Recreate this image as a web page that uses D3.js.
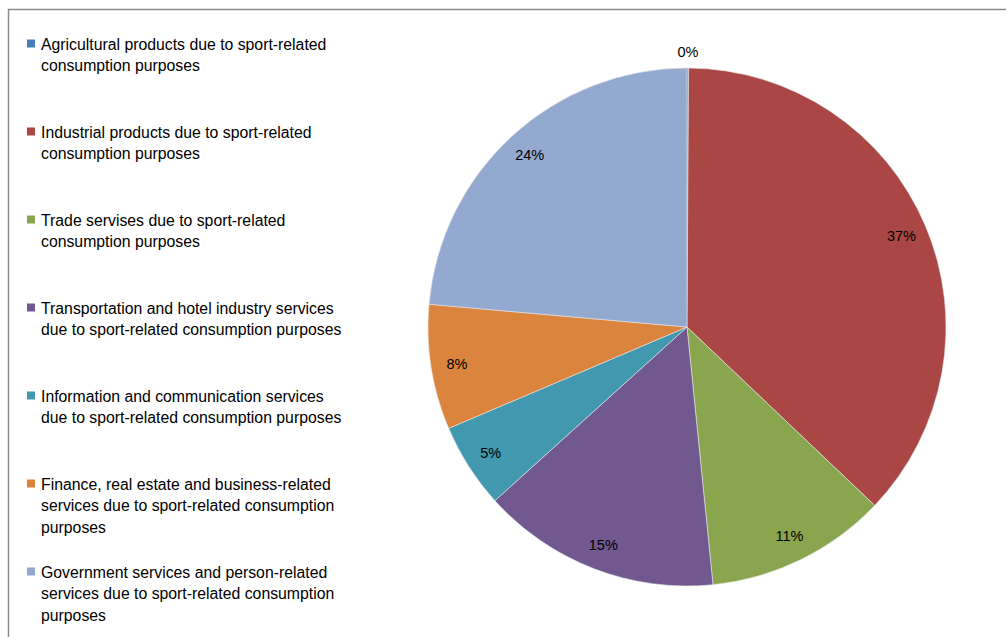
<!DOCTYPE html>
<html><head><meta charset="utf-8">
<script src="https://cdn.jsdelivr.net/npm/d3@7"></script>
<style>
html,body{margin:0;padding:0;background:#fff;}
svg{display:block;}
text{font-family:"Liberation Sans",Arial,sans-serif;fill:#000;}
</style></head>
<body>
<svg id="chart" width="1006" height="637"></svg>
<script>
const categories = [
  "Agricultural products due to sport-related consumption purposes",
  "Industrial products due to sport-related consumption purposes",
  "Trade servises due to sport-related consumption purposes",
  "Transportation and hotel industry services due to sport-related consumption purposes",
  "Information and communication services due to sport-related consumption purposes",
  "Finance, real estate and business-related services due to sport-related consumption purposes",
  "Government services and person-related services due to sport-related consumption purposes"
];
const legendLines = [
  ["Agricultural products due to sport-related", "consumption purposes"],
  ["Industrial products due to sport-related", "consumption purposes"],
  ["Trade servises due to sport-related", "consumption purposes"],
  ["Transportation and hotel industry services", "due to sport-related consumption purposes"],
  ["Information and communication services", "due to sport-related consumption purposes"],
  ["Finance, real estate and business-related", "services due to sport-related consumption", "purposes"],
  ["Government services and person-related", "services due to sport-related consumption", "purposes"]
];
const values = [0.1, 37.0, 11.3, 14.9, 5.3, 7.8, 23.6];
const colors = ["#4A7EBB", "#AA4643", "#89A54E", "#71588F", "#4198AF", "#DB843D", "#93A9CF"];

const svg = d3.select("#chart");

// frame
svg.append("rect").attr("x", 8.5).attr("y", 9.5).attr("width", 1100).attr("height", 700)
  .attr("fill", "none").attr("stroke", "#8a8a8a").attr("stroke-width", 1.5);

const cx = 687, cy = 327, R = 259;
const total = d3.sum(values);
const data = categories.map((c, i) => ({name: c, value: values[i], color: colors[i], lines: legendLines[i]}));

const pie = d3.pie().sort(null).value(d => d.value).startAngle(0).endAngle(2 * Math.PI);
const arcs = pie(data);
const arc = d3.arc().innerRadius(0).outerRadius(R);
const labelArc = d3.arc().innerRadius(233).outerRadius(233);
const outArc = d3.arc().innerRadius(R + 16).outerRadius(R + 16);

const g = svg.append("g").attr("transform", `translate(${cx},${cy})`);
g.selectAll("path.slice").data(arcs).join("path")
  .attr("class", "slice")
  .attr("d", arc)
  .attr("fill", d => d.data.color)
  .attr("stroke", "#e8e8e8").attr("stroke-width", 0.6);

const fmt = v => Math.round(v / total * 100) + "%";
g.selectAll("text.lbl").data(arcs).join("text")
  .attr("class", "lbl")
  .attr("transform", d => {
    const frac = d.data.value / total;
    const p = frac < 0.02 ? outArc.centroid(d) : labelArc.centroid(d);
    return `translate(${p[0]},${p[1]})`;
  })
  .attr("text-anchor", "middle").attr("dy", "0.35em")
  .attr("font-size", 14.5)
  .text(d => fmt(d.data.value));

// legend
const legendY = d3.scalePoint().domain(categories).range([44, 572]);
const lineH = 21.8;
const lg = svg.append("g");
data.forEach(d => {
  const y0 = legendY(d.name);
  lg.append("rect").attr("x", 27).attr("y", y0 - 4.5).attr("width", 8).attr("height", 8).attr("fill", d.color);
  const t = lg.append("text").attr("x", 41).attr("y", y0).attr("font-size", 15.8);
  d.lines.forEach((ln, k) => {
    t.append("tspan").attr("x", 41).attr("y", y0 + k * lineH).attr("dy", "0.35em").text(ln);
  });
});
</script>
</body></html>
